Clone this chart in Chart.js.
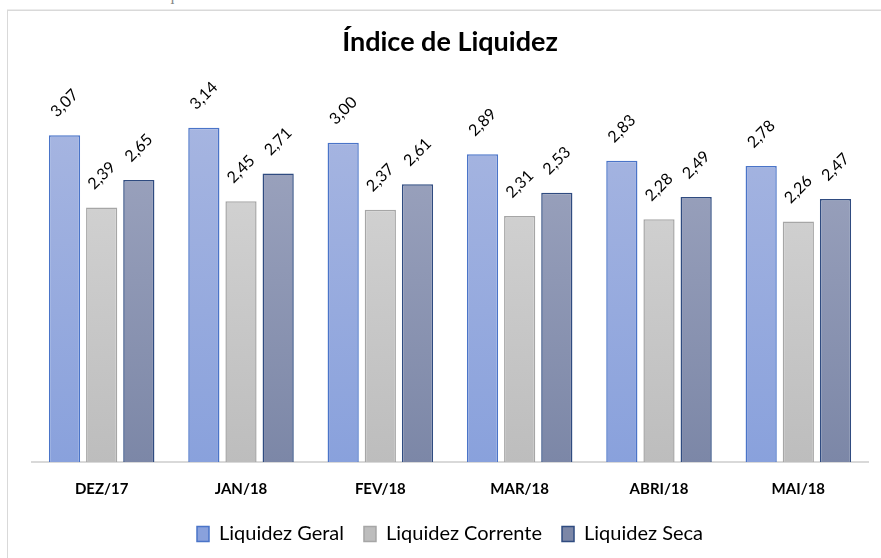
<!DOCTYPE html>
<html>
<head>
<meta charset="utf-8">
<script src="https://cdn.jsdelivr.net/npm/chart.js@4.4.0/dist/chart.umd.min.js"></script>
<style>
  html, body { margin: 0; padding: 0; background: #fff; overflow: hidden; }
  #topo {
    position: absolute; left: 12px; top: -14px;
    font: 16px "Liberation Serif", serif; color: #888; white-space: nowrap;
  }
  #moldura {
    position: absolute; left: 7px; top: 10px; width: 900px; height: 600px;
    border: 1px solid #d9d9d9; box-shadow: 0 -1px 0 #ececec;
  }
  #wrap { position: absolute; left: 0; top: 0; width: 881px; height: 558px; }
</style>
</head>
<body>
<div id="topo">Gráfico 1 – Índice de Liquidez</div>
<div id="moldura"></div>
<div id="wrap"><canvas id="grafico"></canvas></div>
<script>
const meses = ["DEZ/17", "JAN/18", "FEV/18", "MAR/18", "ABRI/18", "MAI/18"];
const liquidezGeral = [3.07, 3.14, 3.00, 2.89, 2.83, 2.78];
const liquidezCorrente = [2.39, 2.45, 2.37, 2.31, 2.28, 2.26];
const liquidezSeca = [2.65, 2.71, 2.61, 2.53, 2.49, 2.47];

const fonte = "Lato, 'Open Sans', sans-serif";

function gradiente(topo, base) {
  return (ctx) => {
    const area = ctx.chart.chartArea;
    if (!area) return base;
    const g = ctx.chart.ctx.createLinearGradient(0, area.top, 0, area.bottom);
    g.addColorStop(0, topo);
    g.addColorStop(1, base);
    return g;
  };
}

// rótulos girados acima das barras
const rotulos = {
  id: "rotulos",
  afterDatasetsDraw(chart) {
    const ctx = chart.ctx;
    ctx.save();
    ctx.font = "16px " + fonte;
    ctx.fillStyle = "#000";
    ctx.textAlign = "center";
    ctx.textBaseline = "middle";
    chart.data.datasets.forEach((ds, i) => {
      chart.getDatasetMeta(i).data.forEach((bar, j) => {
        const texto = ds.data[j].toFixed(2).replace(".", ",");
        ctx.save();
        ctx.translate(bar.x, bar.y - 32);
        ctx.rotate(-Math.PI / 4);
        ctx.fillText(texto, 0, 0);
        ctx.restore();
      });
    });
    ctx.restore();
  },
};

new Chart(document.getElementById("grafico"), {
  type: "bar",
  data: {
    labels: meses,
    datasets: [
      {
        label: "Liquidez Geral",
        data: liquidezGeral,
        backgroundColor: gradiente("#a9b7e1", "#89a1dc"),
        borderColor: "#4a74c8",
        borderWidth: 1.5,
      },
      {
        label: "Liquidez Corrente",
        data: liquidezCorrente,
        backgroundColor: gradiente("#d9d9d9", "#bdbdbd"),
        borderColor: "#a6a6a6",
        borderWidth: 1.5,
      },
      {
        label: "Liquidez Seca",
        data: liquidezSeca,
        backgroundColor: gradiente("#a1a8c2", "#7c87a7"),
        borderColor: "#2f4b80",
        borderWidth: 1.5,
      },
    ],
  },
  options: {
    responsive: true,
    maintainAspectRatio: false,
    animation: false,
    datasets: { bar: { categoryPercentage: 0.8, barPercentage: 0.84 } },
    layout: { padding: { top: 10, left: 32, right: 13, bottom: 4 } },
    plugins: {
      title: {
        display: true,
        text: "Índice de Liquidez",
        color: "#000",
        font: { family: fonte, size: 27, weight: "bold" },
        padding: { top: 16, bottom: 31 },
      },
      legend: {
        position: "bottom",
        labels: {
          color: "#000",
          font: { family: fonte, size: 20 },
          boxWidth: 12,
          boxHeight: 15,
          padding: 20,
        },
      },
      tooltip: { enabled: false },
    },
    scales: {
      y: { display: false, min: 0, max: 3.5 },
      x: {
        grid: { display: false, drawTicks: false },
        border: { display: true, color: "#d9d9d9", width: 2 },
        ticks: {
          color: "#000",
          padding: 18,
          font: { family: fonte, size: 15, weight: "bold" },
        },
        afterFit(eixo) {
          eixo.height -= 12;
        },
      },
    },
  },
  plugins: [rotulos],
});
</script>
</body>
</html>
